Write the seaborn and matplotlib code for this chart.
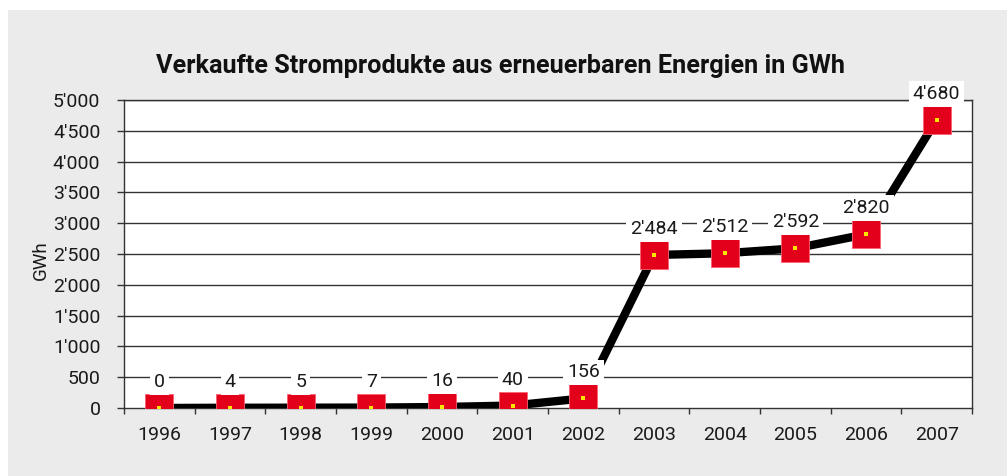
import numpy as np
import pandas as pd
import matplotlib.pyplot as plt
import seaborn as sns
from matplotlib.patches import Rectangle
from matplotlib.ticker import FuncFormatter

years = ["1996", "1997", "1998", "1999", "2000", "2001", "2002",
         "2003", "2004", "2005", "2006", "2007"]
gwh = [0, 4, 5, 7, 16, 40, 156, 2484, 2512, 2592, 2820, 4680]

df = pd.DataFrame({"year": years, "gwh": gwh})
df["pos"] = np.arange(len(df))

sns.set_theme(style="white")
plt.rcParams["font.family"] = ["Roboto", "DejaVu Sans"]

RED = "#e2001a"
YELLOW = "#ffe600"
BG = "#ebebeb"
TXT = "#1a1a1a"


def swiss(v):
    return f"{int(v):,}".replace(",", "'")


fig = plt.figure(figsize=(10.07, 4.76), dpi=100, facecolor="white")
fig.patches.append(Rectangle((8 / 1007, 0), 1, 1 - 10 / 476, transform=fig.transFigure,
                             facecolor=BG, edgecolor="none", zorder=-10))
ax = fig.add_axes([124 / 1007, 68 / 476, 848 / 1007, 308 / 476])
ax.set_facecolor("white")

# grid lines
for y in range(500, 5001, 500):
    ax.axhline(y, color="#333333", linewidth=1.0, zorder=1)

sns.lineplot(data=df, x="pos", y="gwh", color="black", linewidth=6,
             ax=ax, zorder=3, sort=False)
sns.scatterplot(data=df, x="pos", y="gwh", marker="s", s=390, color=RED,
                edgecolor="#ff6070", linewidth=0.6, ax=ax, zorder=4)
sns.scatterplot(data=df, x="pos", y="gwh", marker="s", s=12, color=YELLOW,
                linewidth=0, ax=ax, zorder=5)

for x, v in zip(df["pos"], df["gwh"]):
    ax.annotate(swiss(v), (x, v), xytext=(0, 26), textcoords="offset pixels",
                ha="center", va="center", fontsize=14, color=TXT, zorder=6,
                bbox=dict(boxstyle="square,pad=0.2", facecolor="white", edgecolor="none"))

ax.set_xlim(-0.5, len(years) - 0.5)
ax.set_ylim(0, 5000)
ax.set_yticks(range(0, 5001, 500))
ax.yaxis.set_major_formatter(FuncFormatter(lambda v, p: swiss(v)))
ax.set_xticks(np.arange(-0.5, len(years), 1.0))
ax.set_xticklabels([])
ax.set_xticks(df["pos"], minor=True)
ax.set_xticklabels(years, minor=True)
ax.tick_params(axis="x", which="major", direction="out", length=4, width=1, color="#333333")
ax.tick_params(axis="x", which="minor", length=0, pad=13, labelsize=14, labelcolor=TXT)
ax.tick_params(axis="y", direction="out", length=5, width=1, color="#333333",
               pad=12, labelsize=14, labelcolor=TXT)
ax.tick_params(left=True, bottom=True)
ax.set_xlabel("")
ax.set_ylabel("GWh", fontsize=13.5, color=TXT)
ax.yaxis.set_label_coords(-0.088, 0.48)

for s in ax.spines.values():
    s.set_color("#333333")
    s.set_linewidth(1.0)
    s.set_visible(True)

fig.text(501 / 1007, 1 - 73 / 476, "Verkaufte Stromprodukte aus erneuerbaren Energien in GWh",
         ha="center", va="baseline", fontsize=18.2, fontweight="bold", color="#111111")

fig.savefig("out.png", dpi=100, facecolor="white")
